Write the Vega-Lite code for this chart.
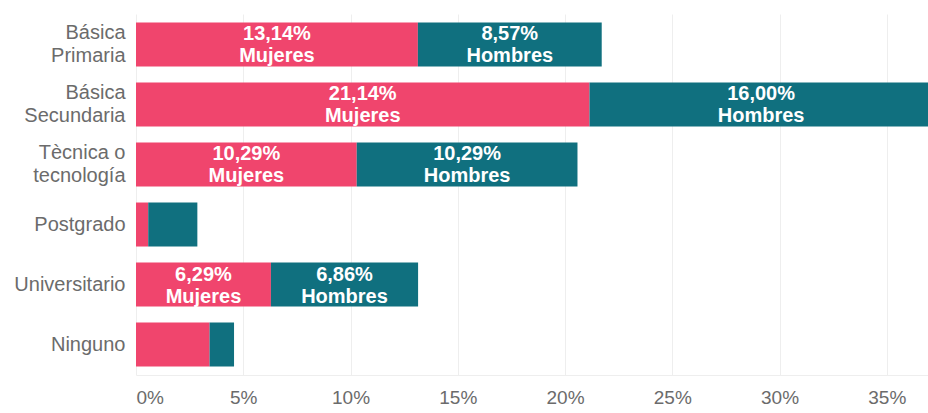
{
  "$schema": "https://vega.github.io/schema/vega-lite/v6.json",
  "width": 792,
  "height": 361,
  "autosize": {"type": "none"},
  "padding": {"left": 136, "top": 14, "right": 0, "bottom": 38},
  "background": "white",
  "config": {
    "view": {"stroke": null},
    "font": "Liberation Sans",
    "locale": {"number": {"decimal": ",", "thousands": ".", "grouping": [3], "currency": ["", " €"]}}
  },
  "data": {
    "values": [
      {"nivel": "Básica\nPrimaria", "genero": "Mujeres", "orden": 1, "valor": 0.1314},
      {"nivel": "Básica\nPrimaria", "genero": "Hombres", "orden": 2, "valor": 0.0857},
      {"nivel": "Básica\nSecundaria", "genero": "Mujeres", "orden": 1, "valor": 0.2114},
      {"nivel": "Básica\nSecundaria", "genero": "Hombres", "orden": 2, "valor": 0.16},
      {"nivel": "Tècnica o\ntecnología", "genero": "Mujeres", "orden": 1, "valor": 0.1029},
      {"nivel": "Tècnica o\ntecnología", "genero": "Hombres", "orden": 2, "valor": 0.1029},
      {"nivel": "Postgrado", "genero": "Mujeres", "orden": 1, "valor": 0.0057},
      {"nivel": "Postgrado", "genero": "Hombres", "orden": 2, "valor": 0.0229},
      {"nivel": "Universitario", "genero": "Mujeres", "orden": 1, "valor": 0.0629},
      {"nivel": "Universitario", "genero": "Hombres", "orden": 2, "valor": 0.0686},
      {"nivel": "Ninguno", "genero": "Mujeres", "orden": 1, "valor": 0.0343},
      {"nivel": "Ninguno", "genero": "Hombres", "orden": 2, "valor": 0.0114}
    ]
  },
  "transform": [
    {"stack": "valor", "groupby": ["nivel"], "sort": [{"field": "orden", "order": "ascending"}], "as": ["x0", "x1"]},
    {"calculate": "(datum.x0 + datum.x1) / 2", "as": "xm"}
  ],
  "encoding": {
    "y": {
      "field": "nivel",
      "type": "nominal",
      "sort": ["Básica\nPrimaria", "Básica\nSecundaria", "Tècnica o\ntecnología", "Postgrado", "Universitario", "Ninguno"],
      "scale": {"paddingInner": 0.267, "paddingOuter": 0.14},
      "axis": {
        "title": null,
        "ticks": false,
        "domain": false,
        "grid": false,
        "labelPadding": 11,
        "labelFontSize": 20,
        "labelColor": "#6b6b6b",
        "labelLineHeight": 23,
        "labelOffset": {"condition": {"test": "indexof(datum.value, '\\n') >= 0", "value": -11.5}, "value": 0},
        "labelExpr": "split(datum.label, '\\n')"
      }
    }
  },
  "layer": [
    {
      "mark": {"type": "bar", "clip": true},
      "encoding": {
        "x": {
          "field": "x0",
          "type": "quantitative",
          "scale": {"domain": [0, 0.3692], "nice": false, "zero": true},
          "axis": {
            "title": null,
            "format": ".0%",
            "values": [0, 0.05, 0.1, 0.15, 0.2, 0.25, 0.3, 0.35],
            "ticks": false,
            "domainColor": "#eeeeee",
            "gridColor": "#eeeeee",
            "labelFontSize": 19,
            "labelColor": "#6b6b6b",
            "labelPadding": 13
          }
        },
        "x2": {"field": "x1"},
        "color": {
          "field": "genero",
          "type": "nominal",
          "scale": {"domain": ["Mujeres", "Hombres"], "range": ["#F0456D", "#10707F"]},
          "legend": null
        }
      }
    },
    {
      "transform": [{"filter": "datum.valor >= 0.05"}],
      "mark": {"type": "text", "dy": -10, "fontSize": 20, "fontWeight": "bold", "color": "#ffffff", "baseline": "middle", "align": "center"},
      "encoding": {
        "x": {"field": "xm", "type": "quantitative"},
        "text": {"field": "valor", "type": "quantitative", "format": ".2%"}
      }
    },
    {
      "transform": [{"filter": "datum.valor >= 0.05"}],
      "mark": {"type": "text", "dy": 12, "fontSize": 20, "fontWeight": "bold", "color": "#ffffff", "baseline": "middle", "align": "center"},
      "encoding": {
        "x": {"field": "xm", "type": "quantitative"},
        "text": {"field": "genero", "type": "nominal"}
      }
    }
  ]
}
